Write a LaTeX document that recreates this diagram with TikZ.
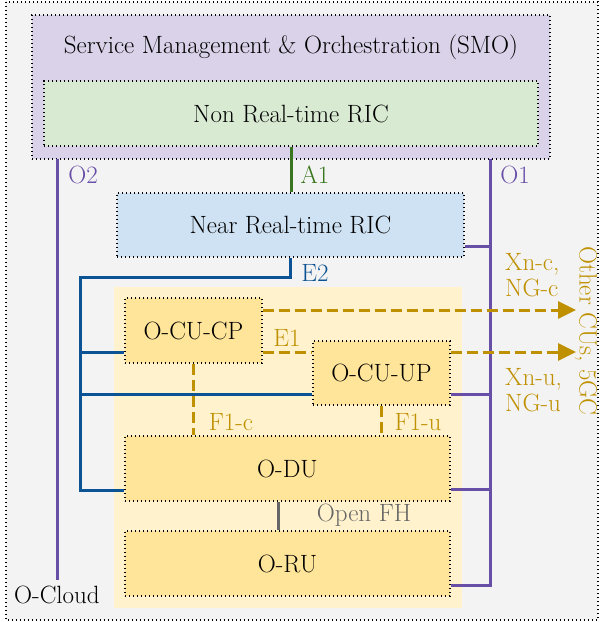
\documentclass[tikz,border=0pt]{standalone}
\usepackage{fontspec}
\usepackage{tikz}
\usetikzlibrary{positioning,arrows.meta,calc}

\definecolor{bgclr}{HTML}{F3F3F3}
\definecolor{smoclr}{HTML}{D9D2E9}
\definecolor{nonrtclr}{HTML}{D9EAD3}
\definecolor{nearclr}{HTML}{CFE2F3}
\definecolor{ranclr}{HTML}{FFF2CC}
\definecolor{duclr}{HTML}{FFE599}
\definecolor{oclr}{HTML}{674EA7}
\definecolor{aclr}{HTML}{38761D}
\definecolor{eclr}{HTML}{0B5394}
\definecolor{fclr}{HTML}{BF9000}
\definecolor{fhclr}{HTML}{666666}

\begin{document}
\begin{tikzpicture}[x=1pt, y=-1pt,
    every node/.style={font=\fontsize{25}{26}\selectfont},
    blk/.style={draw=black, line width=1.4pt, dash pattern=on 1.4pt off 2.6pt, inner sep=0pt},
    oline/.style={draw=oclr, line width=3pt},
    aline/.style={draw=aclr, line width=3pt},
    eline/.style={draw=eclr, line width=3pt},
    fline/.style={draw=fclr, line width=3pt, dash pattern=on 11pt off 5pt},
    fhline/.style={draw=fhclr, line width=3pt},
    tip/.style={-{Triangle[length=18pt,width=17pt]}},
    lbl/.style={text=#1, inner sep=0pt}]

\useasboundingbox (0,0) rectangle (602,622);
\draw [fill=bgclr, line width=1.4pt, dash pattern=on 1.4pt off 2.6pt] (6,2) rectangle (598,620);
\fill [ranclr] (114,287) rectangle (462,608);

\node [blk, fill=smoclr, minimum width=518pt, minimum height=144pt] (smo) at (291,87) {};
\node (smotxt) at (291,47) {Service Management \& Orchestration (SMO)};
\node [blk, fill=nonrtclr, minimum width=494pt, minimum height=65pt] (nonrt) at (291,113.5) {Non Real-time RIC};
\node [blk, fill=nearclr, minimum width=347pt, minimum height=64pt] (nearrt) at (290.5,225) {Near Real-time RIC};

\node [blk, fill=duclr, minimum width=137pt, minimum height=65pt] (cucp) at (193.5,330.5) {O-CU-CP};
\node [blk, fill=duclr, minimum width=137pt, minimum height=64pt] (cuup) at (381.5,373) {O-CU-UP};
\node [blk, fill=duclr, minimum width=325pt, minimum height=65pt] (odu) at (287.5,468.5) {O-DU};
\node [blk, fill=duclr, minimum width=325pt, minimum height=65pt] (oru) at (287.5,563.5) {O-RU};

% O1 / O2
\coordinate (o2top) at (57,159);
\coordinate (o2bot) at (57,580);
\coordinate (o1top) at (490,159);
\coordinate (nrtbr) at ([yshift=-21pt]nearrt.east);
\coordinate (cuupbr) at ([yshift=-21pt]cuup.east);
\coordinate (dubr) at ([yshift=-21pt]odu.east);
\coordinate (rubr) at ([yshift=-21.5pt]oru.east);

\draw [oline] (o2top) -- (o2bot);
\draw [oline] (o1top) |- (rubr);
\draw [oline] (nrtbr) -- (nrtbr -| o1top);
\draw [oline] (cuupbr) -- (cuupbr -| o1top);
\draw [oline] (dubr) -- (dubr -| o1top);

\draw [aline] (nonrt.south) -- (nonrt.south |- nearrt.north);

% E2
\coordinate (e2bend) at (80,277);
\coordinate (cucpw) at ([yshift=-21.5pt]cucp.west);
\coordinate (cuupw) at ([yshift=-21pt]cuup.west);
\coordinate (oduw) at ([yshift=-21.5pt]odu.west);
\draw [eline] (nearrt.south) |- (e2bend) |- (oduw);
\draw [eline] (cucpw -| e2bend) -- (cucpw);
\draw [eline] (cuupw -| e2bend) -- (cuupw);

% E1, F1, Xn / NG
\coordinate (xnx) at (576,0);
\coordinate (cucpxn) at ([yshift=20.5pt]cucp.east);
\coordinate (cucpe1) at ([yshift=-21.5pt]cucp.east);
\coordinate (cuupxn) at ([yshift=21pt]cuup.east);
\draw [fline] (cucp.south) -- (cucp.south |- odu.north);
\draw [fline] (cuup.south) -- (cuup.south |- odu.north);
\draw [fline] (cucpe1) -- (cucpe1 -| cuup.west);
\draw [fline, tip] (cucpxn) -- (cucpxn -| xnx);
\draw [fline, tip] (cuupxn) -- (cuupxn -| xnx);

\coordinate (fhx) at (278,0);
\draw [fhline] (odu.south -| fhx) -- (oru.north -| fhx);

\node [lbl=oclr] (o2lbl) at (83,175) {O2};
\node [lbl=aclr] (a1lbl) at (315,175) {A1};
\node [lbl=oclr] (o1lbl) at (515,175) {O1};
\node [lbl=eclr] (e2lbl) at (315,273) {E2};
\node [lbl=fclr] (e1lbl) at (287,338) {E1};
\node [lbl=fclr] (f1clbl) at (231,422) {F1-c};
\node [lbl=fclr] (f1ulbl) at (418,422) {F1-u};
\node [lbl=fhclr] (fhlbl) at (364,515) {Open FH};
\node [lbl=fclr, align=left, anchor=west] (xnclbl) at (505,275) {Xn-c,\\NG-c};
\node [lbl=fclr, align=left, anchor=west] (xnulbl) at (505,390) {Xn-u,\\NG-u};
\node [lbl=fclr, rotate=-90] (otherlbl) at (586,331) {Other CUs, 5GC};
\node (cloudlbl) at (57,595) {O-Cloud};
\end{tikzpicture}
\end{document}
